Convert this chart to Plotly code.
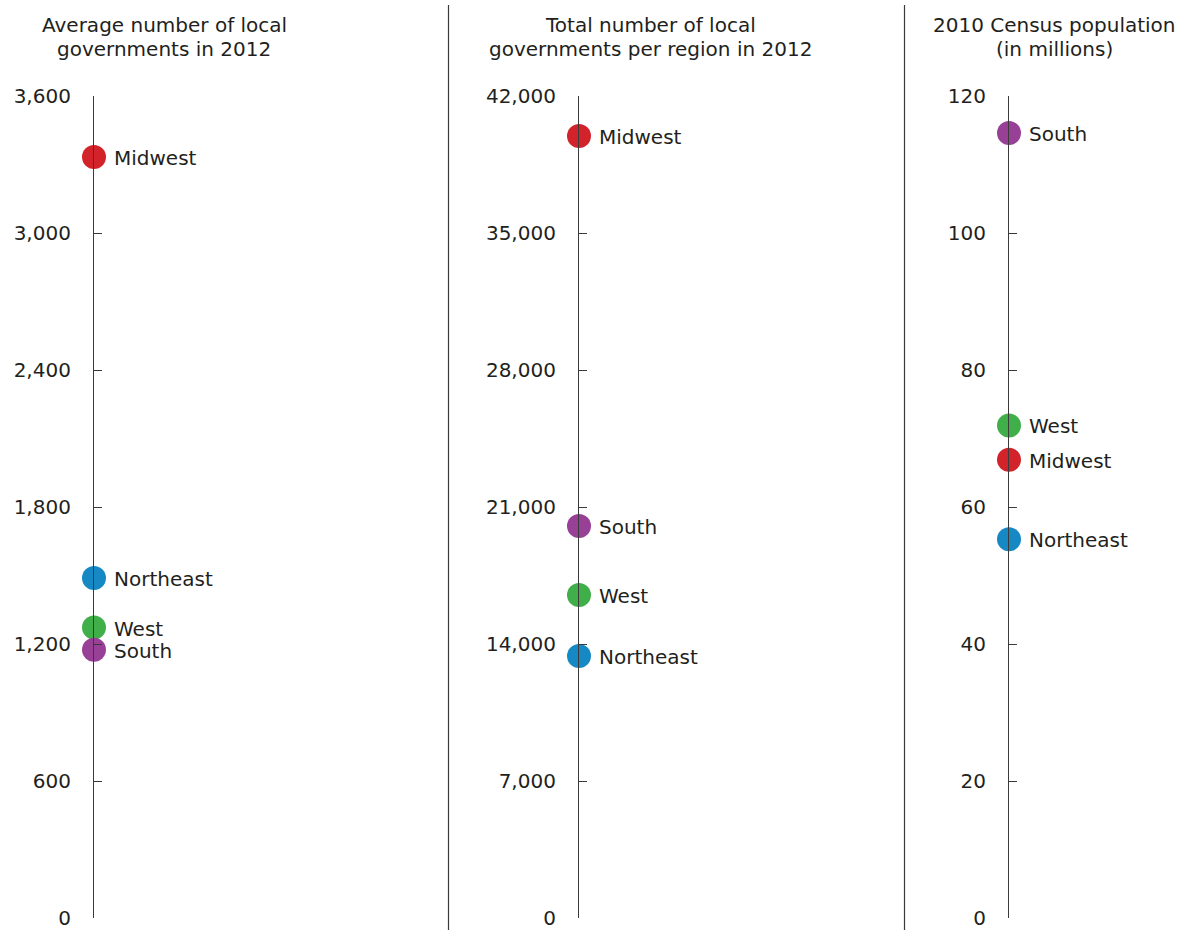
import plotly.graph_objects as go

regions = ["Midwest", "Northeast", "West", "South"]
colors = ["#D2232A", "#1689C4", "#40AE49", "#983F96"]

avg_gov = [3333, 1489, 1272, 1175]
total_gov = [39960, 13390, 16500, 20030]
population = [66.9, 55.3, 71.9, 114.6]

titles = [["Average number of local", "governments in 2012"],
          ["Total number of local", "governments per region in 2012"],
          ["2010 Census population", "(in millions)"]]
ranges = [[0, 3600], [0, 42000], [0, 120]]
dticks = [600, 7000, 20]
tickfmts = [",d", ",d", "d"]

W, H = 1184, 930
axis_x = [94, 579, 1009]
title_x = [164, 650, 1054]
title_y = [25, 49]
sep_x = [448.5, 904.5]
y_top, y_bot = 96, 918

FONT = "DejaVu Sans"
FS = 20
TXT = "#231f20"
LINE = "#3a3a3a"

fig = go.Figure()
series = [avg_gov, total_gov, population]
for i, vals in enumerate(series):
    xa = "x" if i == 0 else f"x{i+1}"
    ya = "y" if i == 0 else f"y{i+1}"
    fig.add_trace(go.Scatter(
        x=[0] * len(vals), y=vals, mode="markers",
        marker=dict(size=24, color=colors, line=dict(width=0)),
        cliponaxis=False, showlegend=False, hoverinfo="skip",
        xaxis=xa, yaxis=ya))
    for name, v in zip(regions, vals):
        fig.add_annotation(x=0, y=v, xref=xa, yref=ya, text=name, showarrow=False,
                           xanchor="left", yanchor="middle", xshift=18, yshift=-1,
                           font=dict(family=FONT, size=FS, color=TXT))

layout = dict(
    width=W, height=H, margin=dict(l=0, r=0, t=0, b=0, pad=0),
    paper_bgcolor="white", plot_bgcolor="rgba(0,0,0,0)",
    font=dict(family=FONT, size=FS, color=TXT),
)
ydom = [1 - y_bot / H, 1 - y_top / H]
for i in range(3):
    xs = "xaxis" if i == 0 else f"xaxis{i+1}"
    ys = "yaxis" if i == 0 else f"yaxis{i+1}"
    x0 = axis_x[i] / W
    layout[xs] = dict(domain=[x0, min(x0 + 0.12, 1.0)], range=[0, 1], visible=False,
                      automargin=False,
                      anchor="y" if i == 0 else f"y{i+1}", fixedrange=True)
    layout[ys] = dict(domain=ydom, range=ranges[i], dtick=dticks[i], tick0=0,
                      tickformat=tickfmts[i], showgrid=False, zeroline=False,
                      showline=True, linecolor=LINE, linewidth=1.2,
                      ticks="inside", ticklen=8, tickcolor=LINE, tickwidth=1.2,
                      ticklabelstandoff=18, automargin=False,
                      tickfont=dict(family=FONT, size=FS, color=TXT),
                      anchor="x" if i == 0 else f"x{i+1}", fixedrange=True)
fig.update_layout(**layout)

for i in range(3):
    for j, line in enumerate(titles[i]):
        fig.add_annotation(x=title_x[i] / W, y=1 - title_y[j] / H,
                           xref="paper", yref="paper",
                           text=line, showarrow=False, xanchor="center", yanchor="middle",
                           font=dict(family=FONT, size=FS, color=TXT))

for sx in sep_x:
    fig.add_shape(type="line", xref="paper", yref="paper", x0=sx / W, x1=sx / W,
                  y0=0, y1=1 - 5 / H, line=dict(color=LINE, width=1.2))

fig.write_html("out.html", config={"displayModeBar": False},
               post_script="document.body.style.margin='0';document.body.style.overflow='hidden';")
